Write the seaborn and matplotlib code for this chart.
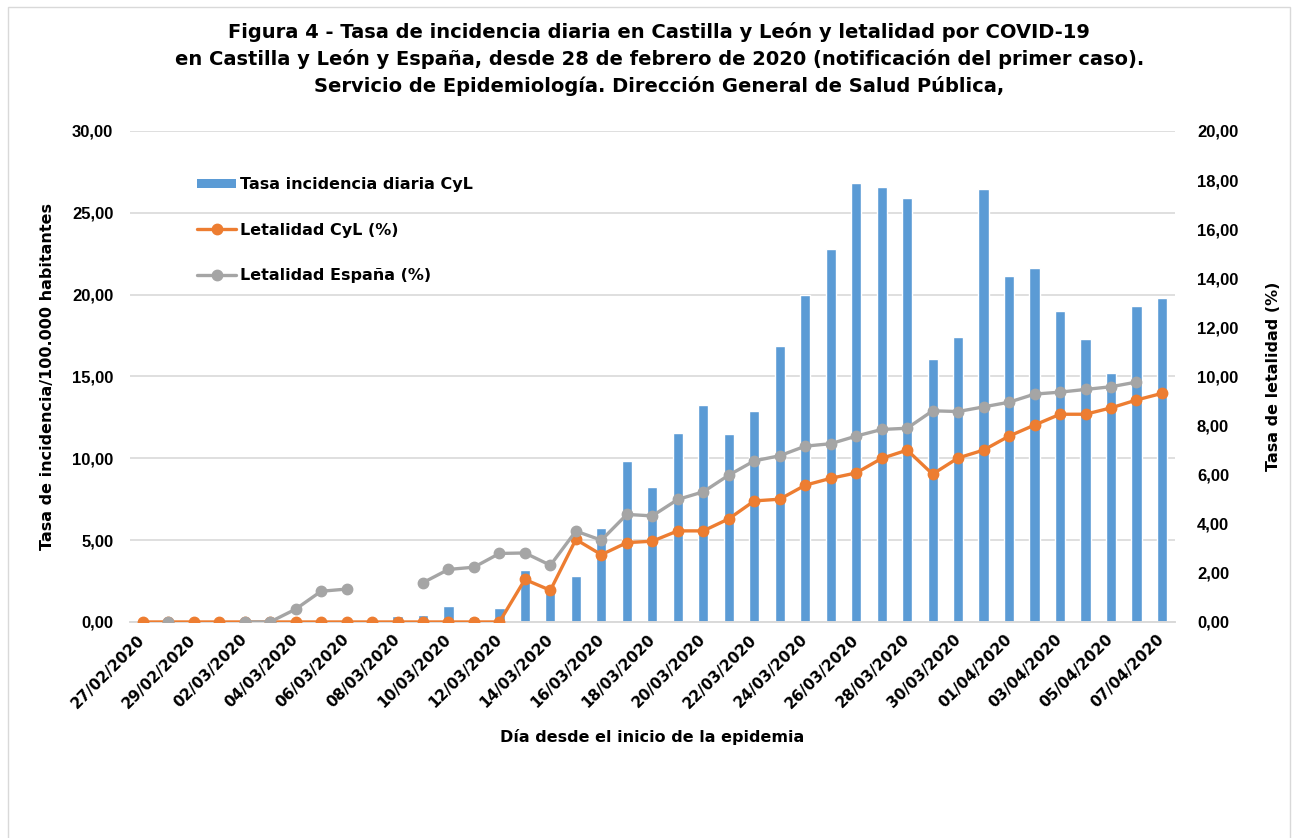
import numpy as np
import pandas as pd
import matplotlib
matplotlib.use("Agg")
import matplotlib.pyplot as plt
import seaborn as sns
from matplotlib.patches import Patch, Rectangle
from matplotlib.lines import Line2D

# Data
fechas = pd.date_range("2020-02-27", "2020-04-07").strftime("%d/%m/%Y").tolist()

incidencia_cyl = [0, 0, 0, 0, 0, 0, 0, 0, 0, 0.26, 0.36, 0.40, 0.96, 0.28, 0.83,
                  3.18, 2.00, 2.83, 5.74, 9.84, 8.27, 11.57, 13.24, 11.51, 12.91,
                  16.86, 19.96, 22.79, 26.80, 26.58, 25.89, 16.07, 17.39, 26.44,
                  21.12, 21.61, 18.98, 17.31, 15.23, 19.33, 19.82]

letalidad_cyl = [0, 0, 0, 0, 0, 0, 0, 0, 0, 0, 0, 0, 0, 0, 0,
                 1.73, 1.29, 3.36, 2.74, 3.23, 3.29, 3.71, 3.71, 4.20, 4.93,
                 5.00, 5.57, 5.85, 6.07, 6.66, 7.00, 6.02, 6.68, 7.00,
                 7.57, 8.02, 8.46, 8.46, 8.72, 9.04, 9.31]

letalidad_esp = [np.nan, 0, np.nan, np.nan, 0, 0, 0.52, 1.25, 1.34, np.nan, np.nan,
                 1.60, 2.14, 2.23, 2.79, 2.81, 2.31, 3.70, 3.33, 4.38, 4.32, 4.99,
                 5.30, 5.98, 6.56, 6.77, 7.16, 7.26, 7.57, 7.84, 7.89, 8.60, 8.57,
                 8.76, 8.95, 9.28, 9.36, 9.47, 9.58, 9.77, np.nan]

df = pd.DataFrame({"fecha": fechas, "incidencia": incidencia_cyl,
                   "let_cyl": letalidad_cyl, "let_esp": letalidad_esp})
pos = np.arange(len(df))

azul, naranja, gris = "#5B9BD5", "#ED7D31", "#A5A5A5"

sns.set_theme(style="white")
plt.rcParams["font.family"] = ["DejaVu Sans"]
plt.rcParams["font.weight"] = "bold"
for k in ("text.color", "axes.labelcolor", "xtick.color", "ytick.color"):
    plt.rcParams[k] = "black"

fig = plt.figure(figsize=(12.93, 8.38), dpi=100)
ax = fig.add_axes([0.1005, 0.2578, 0.808, 0.586])

# Bars: daily incidence
sns.barplot(x="fecha", y="incidencia", data=df, ax=ax, color=azul,
            saturation=1, width=0.4, order=fechas)
ax.set_ylim(0, 30)
ax.set_yticks(np.arange(0, 31, 5))
ax.set_yticklabels([f"{v:.2f}".replace(".", ",") for v in np.arange(0, 31, 5)],
                   family="Liberation Sans", fontsize=12, fontweight="bold")
ax.yaxis.grid(True, color="#D9D9D9", linewidth=1.2)
ax.set_axisbelow(True)

# Lines: lethality on secondary axis
ax2 = ax.twinx()
ax2.plot(pos, df["let_cyl"], color=naranja, lw=2.4, marker="o", ms=7.5, zorder=3)
ax2.plot(pos, df["let_esp"], color=gris, lw=2.4, marker="o", ms=7.5, zorder=4)
ax2.set_ylim(0, 20)
ax2.set_yticks(np.arange(0, 21, 2))
ax2.set_yticklabels([f"{v:.2f}".replace(".", ",") for v in np.arange(0, 21, 2)],
                    family="Liberation Sans", fontsize=12, fontweight="bold")

ax.set_xlim(-0.5, len(df) - 0.5)
ax.set_xticks(pos[::2])
ax.set_xticklabels(fechas[::2], rotation=45, ha="right", va="center",
                   rotation_mode="anchor", fontsize=11, fontweight="bold")
ax.set_xticks(np.arange(-0.5, len(df), 2), minor=True)
ax.tick_params(axis="x", which="major", length=0, pad=11)
ax.tick_params(axis="x", which="minor", length=5, color="#D9D9D9", width=1.2)
ax.tick_params(axis="y", length=0, pad=12)
ax2.tick_params(axis="y", length=0, pad=16)

for a in (ax, ax2):
    for s in ("top", "left", "right"):
        a.spines[s].set_visible(False)
    a.spines["bottom"].set_color("#D9D9D9")
    a.spines["bottom"].set_linewidth(1.2)

ax.set_xlabel("Día desde el inicio de la epidemia", fontsize=11.5,
              fontweight="bold", labelpad=13)
ax.set_ylabel("Tasa de incidencia/100.000 habitantes", fontsize=11.5,
              fontweight="bold", labelpad=12)
ax2.set_ylabel("Tasa de letalidad (%)", fontsize=11.5, fontweight="bold",
               labelpad=20)

handles = [Patch(facecolor=azul, edgecolor="none"),
           Line2D([], [], color=naranja, lw=2.4, marker="o", ms=7.5),
           Line2D([], [], color=gris, lw=2.4, marker="o", ms=7.5)]
labels = ["Tasa incidencia diaria CyL", "Letalidad CyL (%)", "Letalidad España (%)"]
ax2.legend(handles, labels, loc="upper left", bbox_to_anchor=(0.057, 0.922),
           frameon=False, labelspacing=1.9, handlelength=2.4,
           handleheight=0.55, handletextpad=0.25, borderpad=0,
           prop={"weight": "bold", "size": 11.5})

fig.text(0.51, 1 - 22 / 838,
         "Figura 4 - Tasa de incidencia diaria en Castilla y León y letalidad por COVID-19\n"
         "en Castilla y León y España, desde 28 de febrero de 2020 (notificación del primer caso).\n"
         "Servicio de Epidemiología. Dirección General de Salud Pública,",
         ha="center", va="top", fontsize=14, fontweight="bold", linespacing=1.45)

fig.patches.append(Rectangle((8 / 1293, -0.05), 1282 / 1293, 1.05 - 7 / 838,
                             transform=fig.transFigure, fill=False,
                             edgecolor="#D9D9D9", linewidth=1))

fig.savefig("out.png", dpi=100)
